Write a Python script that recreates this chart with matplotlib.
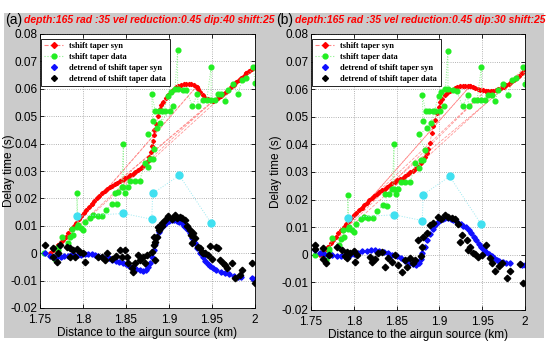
import matplotlib
matplotlib.use("Agg")
import matplotlib.pyplot as plt
from matplotlib.lines import Line2D
from matplotlib.patches import Rectangle
from matplotlib.ticker import FuncFormatter

# ---- data (km, s) ----
syn_a = [(1.762, 0.000), (1.765, 0.001), (1.768, 0.002), (1.771, 0.003), (1.774, 0.004),
         (1.777, 0.005), (1.780, 0.006), (1.783, 0.0075), (1.786, 0.0088), (1.789, 0.0100),
         (1.792, 0.0112), (1.795, 0.0124), (1.798, 0.0135), (1.801, 0.0147), (1.804, 0.0158),
         (1.807, 0.0169), (1.810, 0.0180), (1.813, 0.0190), (1.816, 0.0200), (1.819, 0.0209),
         (1.822, 0.0218), (1.825, 0.0226), (1.828, 0.0233), (1.831, 0.0240), (1.834, 0.0246),
         (1.837, 0.0252), (1.840, 0.0258), (1.843, 0.0263), (1.846, 0.0268), (1.849, 0.0273),
         (1.852, 0.0279), (1.855, 0.0284), (1.858, 0.0290), (1.861, 0.0296), (1.864, 0.0303),
         (1.867, 0.0310), (1.870, 0.0318), (1.873, 0.0328), (1.875, 0.0338), (1.877, 0.0352),
         (1.879, 0.0370), (1.880, 0.0390), (1.881, 0.0410), (1.882, 0.0430), (1.883, 0.0450),
         (1.885, 0.0470), (1.887, 0.0500), (1.889, 0.0525), (1.891, 0.0540), (1.893, 0.0552),
         (1.896, 0.0565), (1.899, 0.0578), (1.902, 0.0588), (1.905, 0.0597), (1.908, 0.0605),
         (1.911, 0.0611), (1.914, 0.0615), (1.917, 0.0617), (1.920, 0.0618), (1.923, 0.0618),
         (1.926, 0.0617), (1.929, 0.0615), (1.932, 0.0608), (1.934, 0.0598), (1.936, 0.0588),
         (1.939, 0.0578), (1.942, 0.0568), (1.945, 0.0562), (1.948, 0.0558), (1.951, 0.0556),
         (1.954, 0.0558), (1.957, 0.0565), (1.960, 0.0573), (1.963, 0.0580), (1.966, 0.0588),
         (1.969, 0.0596), (1.972, 0.0605), (1.975, 0.0615), (1.978, 0.0624), (1.981, 0.0632),
         (1.984, 0.0640), (1.987, 0.0648), (1.990, 0.0656), (1.993, 0.0664), (1.996, 0.0672),
         (1.999, 0.0680),
         # repeated samples further down the record
         (1.765, 0.001), (1.932, 0.0608), (1.771, 0.003), (1.951, 0.0556), (1.810, 0.0180),
         (1.990, 0.0656)]

syn_b = [(1.761, 0.000), (1.764, 0.001), (1.767, 0.002), (1.770, 0.003), (1.773, 0.0042),
         (1.776, 0.0054), (1.779, 0.0066), (1.782, 0.0078), (1.785, 0.0090), (1.788, 0.0101),
         (1.791, 0.0112), (1.794, 0.0123), (1.797, 0.0133), (1.800, 0.0143), (1.803, 0.0153),
         (1.806, 0.0162), (1.809, 0.0171), (1.812, 0.0180), (1.815, 0.0189), (1.818, 0.0198),
         (1.821, 0.0206), (1.824, 0.0213), (1.827, 0.0220), (1.830, 0.0226), (1.833, 0.0233),
         (1.836, 0.0240), (1.839, 0.0246), (1.842, 0.0252), (1.845, 0.0259), (1.848, 0.0265),
         (1.851, 0.0270), (1.854, 0.0275), (1.857, 0.0280), (1.860, 0.0286), (1.863, 0.0293),
         (1.866, 0.0299), (1.869, 0.0304), (1.872, 0.0310), (1.875, 0.0318), (1.878, 0.0332),
         (1.880, 0.0342), (1.883, 0.0354), (1.885, 0.0368), (1.887, 0.0382), (1.889, 0.0405),
         (1.891, 0.0440), (1.893, 0.0465), (1.895, 0.0490), (1.897, 0.0515), (1.899, 0.0535),
         (1.901, 0.0552), (1.903, 0.0566), (1.906, 0.0578), (1.909, 0.0588), (1.912, 0.0594),
         (1.915, 0.0598), (1.918, 0.0603), (1.921, 0.0607), (1.924, 0.0610), (1.927, 0.0612),
         (1.930, 0.0613), (1.933, 0.0613), (1.936, 0.0612), (1.939, 0.0609), (1.942, 0.0605),
         (1.945, 0.0601), (1.948, 0.0598), (1.951, 0.0596), (1.954, 0.0595), (1.957, 0.0594),
         (1.960, 0.0594), (1.963, 0.0595), (1.966, 0.0597), (1.969, 0.0600), (1.972, 0.0604),
         (1.975, 0.0609), (1.978, 0.0614), (1.981, 0.0620), (1.984, 0.0627), (1.987, 0.0634),
         (1.990, 0.0641), (1.993, 0.0649), (1.996, 0.0660), (1.999, 0.0675),
         (1.764, 0.001), (1.936, 0.0612), (1.770, 0.003), (1.954, 0.0595), (1.809, 0.0171),
         (1.990, 0.0641)]

taper_data = [(1.755, 0.000), (1.768, -0.002), (1.771, 0.0010), (1.771, 0.0022), (1.775, 0.0060),
              (1.783, 0.0036), (1.785, 0.0058), (1.788, 0.0065), (1.787, 0.0090), (1.793, 0.0095),
              (1.793, 0.0218), (1.794, 0.0102), (1.798, 0.0091), (1.800, 0.0084), (1.802, 0.0113),
              (1.808, 0.0130), (1.812, 0.0138), (1.817, 0.0134), (1.822, 0.0134), (1.827, 0.0157),
              (1.834, 0.0180), (1.839, 0.0178), (1.837, 0.0220), (1.841, 0.0222), (1.845, 0.0240),
              (1.847, 0.0400), (1.847, 0.0240), (1.849, 0.0220), (1.852, 0.0240), (1.855, 0.0265),
              (1.860, 0.0265), (1.866, 0.0265), (1.872, 0.0331), (1.876, 0.0313), (1.878, 0.0345),
              (1.881, 0.0345), (1.883, 0.0380), (1.876, 0.0436), (1.886, 0.0458), (1.881, 0.0484),
              (1.880, 0.0580), (1.884, 0.0520), (1.888, 0.0520), (1.892, 0.0520), (1.895, 0.0520),
              (1.901, 0.0520), (1.905, 0.0538), (1.890, 0.0476), (1.899, 0.0575), (1.902, 0.0590),
              (1.907, 0.0600), (1.910, 0.0740), (1.910, 0.0600), (1.916, 0.0597), (1.920, 0.0595),
              (1.927, 0.0538), (1.933, 0.0580), (1.934, 0.0538), (1.940, 0.0560), (1.944, 0.0560),
              (1.949, 0.0680), (1.949, 0.0560), (1.953, 0.0560), (1.957, 0.0580), (1.961, 0.0580),
              (1.965, 0.0556), (1.969, 0.0597), (1.974, 0.0618), (1.980, 0.0580), (1.985, 0.0633),
              (1.990, 0.0640), (1.998, 0.0680), (2.000, 0.0620)]

outliers = [(1.793, 0.0135), (1.847, 0.0145), (1.880, 0.0124), (1.881, 0.0218),
            (1.912, 0.0284), (1.949, 0.0110)]

detrend_syn_a = [(1.756, 0.0000), (1.762, -0.0012), (1.766, -0.0015), (1.770, -0.0015),
                 (1.774, -0.0015), (1.778, -0.0012), (1.782, -0.0010), (1.786, -0.0008),
                 (1.790, -0.0006), (1.794, -0.0006), (1.798, -0.0005), (1.802, -0.0004),
                 (1.806, -0.0002), (1.810, -0.0004), (1.814, -0.0007), (1.818, -0.0010),
                 (1.822, -0.0013), (1.826, -0.0016), (1.830, -0.0019), (1.834, -0.0023),
                 (1.838, -0.0027), (1.842, -0.0031), (1.846, -0.0036), (1.850, -0.0041),
                 (1.854, -0.0046), (1.858, -0.0052), (1.862, -0.0058), (1.866, -0.0063),
                 (1.870, -0.0064), (1.873, -0.0060), (1.876, -0.0050), (1.878, -0.0036),
                 (1.880, -0.0015), (1.882, 0.0010), (1.884, 0.0035), (1.886, 0.0058),
                 (1.888, 0.0076), (1.891, 0.0092), (1.894, 0.0104), (1.897, 0.0112),
                 (1.900, 0.0117), (1.903, 0.0120), (1.906, 0.0121), (1.909, 0.0119),
                 (1.912, 0.0115), (1.915, 0.0109), (1.918, 0.0101), (1.921, 0.0090),
                 (1.924, 0.0075), (1.927, 0.0057), (1.930, 0.0038), (1.933, 0.0018),
                 (1.936, 0.0000), (1.939, -0.0014), (1.942, -0.0027), (1.945, -0.0038),
                 (1.948, -0.0047), (1.951, -0.0055), (1.955, -0.0062), (1.960, -0.0067),
                 (1.965, -0.0072), (1.970, -0.0077), (1.975, -0.0082), (1.980, -0.0086),
                 (1.984, -0.0088), (1.996, -0.0090), (2.000, -0.0095)]

detrend_syn_b = [(1.755, 0.0018), (1.760, 0.0008), (1.765, 0.0002), (1.770, 0.0000),
                 (1.775, -0.0002), (1.780, -0.0003), (1.785, -0.0003), (1.790, -0.0002),
                 (1.795, 0.0000), (1.800, 0.0003), (1.805, 0.0008), (1.810, 0.0012),
                 (1.815, 0.0015), (1.820, 0.0016), (1.825, 0.0016), (1.830, 0.0014),
                 (1.835, 0.0011), (1.840, 0.0006), (1.845, 0.0001), (1.850, -0.0005),
                 (1.855, -0.0013), (1.860, -0.0021), (1.865, -0.0029), (1.869, -0.0034),
                 (1.873, -0.0036), (1.876, -0.0028), (1.878, -0.0014), (1.880, 0.0005),
                 (1.883, 0.0030), (1.886, 0.0054), (1.889, 0.0075), (1.892, 0.0093),
                 (1.895, 0.0108), (1.898, 0.0120), (1.901, 0.0127), (1.904, 0.0131),
                 (1.907, 0.0133), (1.910, 0.0133), (1.913, 0.0131), (1.916, 0.0127),
                 (1.919, 0.0122), (1.922, 0.0117), (1.925, 0.0112), (1.928, 0.0106),
                 (1.931, 0.0099), (1.934, 0.0090), (1.937, 0.0079), (1.940, 0.0066),
                 (1.943, 0.0052), (1.946, 0.0038), (1.949, 0.0027), (1.952, 0.0018),
                 (1.955, 0.0010), (1.958, 0.0003), (1.961, -0.0004), (1.964, -0.0011),
                 (1.967, -0.0018), (1.970, -0.0023), (1.974, -0.0027), (1.978, -0.0029),
                 (1.982, -0.0030), (1.997, -0.0036), (2.000, -0.0038)]

detrend_data_a = [(1.756, 0.0030), (1.765, 0.0018), (1.765, -0.0015), (1.770, -0.0033),
                  (1.771, 0.0000), (1.773, 0.0030), (1.781, 0.0022), (1.785, 0.0018),
                  (1.785, -0.0015), (1.788, 0.0011), (1.791, -0.0015), (1.793, 0.0015),
                  (1.797, 0.0004), (1.800, 0.0000), (1.802, -0.0033), (1.817, -0.0015),
                  (1.822, -0.0015), (1.826, -0.0025), (1.828, 0.0000), (1.834, -0.0020),
                  (1.838, -0.0010), (1.843, 0.0011), (1.845, -0.0015), (1.849, 0.0011),
                  (1.851, -0.0015), (1.852, -0.0036), (1.857, -0.0055), (1.858, -0.0069),
                  (1.860, -0.0036), (1.864, -0.0007), (1.866, -0.0025), (1.870, -0.0015),
                  (1.872, -0.0036), (1.874, -0.0007), (1.880, 0.0004), (1.884, -0.0025),
                  (1.882, 0.0030), (1.882, 0.0060), (1.884, 0.0040), (1.886, 0.0060),
                  (1.887, 0.0095), (1.888, 0.0084), (1.892, 0.0110), (1.892, 0.0100),
                  (1.895, 0.0120), (1.899, 0.0135), (1.903, 0.0125), (1.907, 0.0138),
                  (1.909, 0.0127), (1.913, 0.0132), (1.915, 0.0127), (1.919, 0.0120),
                  (1.921, 0.0100), (1.924, 0.0084), (1.926, 0.0065), (1.928, 0.0073),
                  (1.927, 0.0036), (1.930, 0.0055), (1.934, 0.0022), (1.936, 0.0018),
                  (1.938, 0.0004), (1.940, 0.0000), (1.942, 0.0000), (1.945, -0.0007),
                  (1.948, 0.0025), (1.950, -0.0020), (1.955, 0.0022), (1.957, 0.0018),
                  (1.959, -0.0025), (1.963, -0.0036), (1.965, -0.0044), (1.967, -0.0055),
                  (1.973, -0.0036), (1.977, -0.0090), (1.983, -0.0081), (1.985, -0.0062),
                  (1.996, -0.0036), (2.000, -0.0110)]

detrend_data_b = [(1.755, 0.0036), (1.755, 0.0020), (1.764, 0.0025), (1.764, -0.0015),
                  (1.768, -0.0030), (1.771, 0.0000), (1.780, 0.0030), (1.786, 0.0018),
                  (1.790, -0.0005), (1.792, 0.0010), (1.792, -0.0010), (1.796, 0.0007),
                  (1.800, 0.0015), (1.801, -0.0025), (1.804, 0.0000), (1.819, -0.0007),
                  (1.821, -0.0025), (1.825, -0.0015), (1.828, 0.0007), (1.833, 0.0010),
                  (1.836, -0.0043), (1.840, -0.0010), (1.845, -0.0025), (1.848, 0.0000),
                  (1.852, -0.0036), (1.856, -0.0062), (1.860, -0.0018), (1.862, -0.0043),
                  (1.866, -0.0010), (1.869, -0.0030), (1.872, -0.0020), (1.875, 0.0054),
                  (1.878, -0.0005), (1.880, 0.0030), (1.881, 0.0065), (1.885, 0.0080),
                  (1.889, 0.0108), (1.893, 0.0115), (1.898, 0.0137), (1.902, 0.0130),
                  (1.906, 0.0144), (1.910, 0.0138), (1.915, 0.0134), (1.918, 0.0128),
                  (1.922, 0.0110), (1.924, 0.0047), (1.926, 0.0072), (1.932, 0.0054),
                  (1.933, 0.0018), (1.936, 0.0030), (1.939, 0.0007), (1.942, 0.0003),
                  (1.945, -0.0007), (1.950, 0.0000), (1.955, 0.0036), (1.959, -0.0010),
                  (1.962, -0.0030), (1.965, -0.0060), (1.970, -0.0040), (1.973, -0.0030),
                  (1.979, -0.0083), (1.982, -0.0058), (1.994, -0.0033), (1.998, -0.0101)]

panel_tags = ["(a)", "(b)"]
panel_titles = ["depth:165 rad :35 vel reduction:0.45 dip:40 shift:25",
                "depth:165 rad :35 vel reduction:0.45 dip:30 shift:25"]
legend_labels = ["tshift taper syn", "tshift taper data",
                 "detrend of tshift taper syn", "detrend of tshift taper data"]
xticks = [1.75, 1.8, 1.85, 1.9, 1.95, 2.0]
yticks = [-0.02, -0.01, 0, 0.01, 0.02, 0.03, 0.04, 0.05, 0.06, 0.07, 0.08]

RED, GREEN, CYAN, BLUE = "#ff0000", "#22ee22", "#40e0f0", "#1010ff"
W, H = 550, 346


def xy(pts):
    return [p[0] for p in pts], [p[1] for p in pts]


def fmt(v, _):
    return "%g" % round(v, 4)


plt.rcParams["font.family"] = ["Liberation Sans", "DejaVu Sans"]

fig = plt.figure(figsize=(W / 100, H / 100), dpi=100, facecolor="white")
fig.patches.append(Rectangle((4 / W, 8 / H), 540 / W, 325 / H, transform=fig.transFigure,
                             facecolor="#cbcbcb", edgecolor="none", zorder=-10))

# axes boxes in pixels: left, top, right, bottom
boxes = [(40, 34, 255, 308), (311, 34, 525, 310)]
panels = [(syn_a, detrend_syn_a, detrend_data_a), (syn_b, detrend_syn_b, detrend_data_b)]

for i, ((l, t, r, b), (syn, dsyn, ddata)) in enumerate(zip(boxes, panels)):
    ax = fig.add_axes([l / W, 1 - b / H, (r - l) / W, (b - t) / H])
    ax.set_facecolor("white")

    sx, sy = xy(syn)
    ax.plot(sx, sy, ls="--", lw=0.6, color="#ff8080", alpha=0.8)
    ax.plot(sx, sy, ls="none", marker="D", ms=2.1, color=RED, mec=RED)
    gx, gy = xy(taper_data)
    ax.plot(gx, gy, ls=":", lw=0.7, color="#8cf08c")
    ax.plot(gx, gy, ls="none", marker="o", ms=3.4, color=GREEN, mec=GREEN)
    cx, cy = xy(outliers)
    ax.plot(cx, cy, ls=":", lw=0.7, color="#9ae8f0")
    ax.plot(cx, cy, ls="none", marker="o", ms=5.0, color=CYAN, mec=CYAN)
    bx, by = xy(dsyn)
    ax.plot(bx, by, ls="none", marker="D", ms=2.7, color=BLUE, mec=BLUE)
    kx, ky = xy(ddata)
    ax.plot(kx, ky, ls="none", marker="D", ms=3.3, color="black", mec="black")

    ax.set_xlim(1.75, 2.0)
    ax.set_ylim(-0.02, 0.08)
    ax.set_xticks(xticks)
    ax.set_yticks(yticks)
    ax.xaxis.set_major_formatter(FuncFormatter(fmt))
    ax.yaxis.set_major_formatter(FuncFormatter(fmt))
    ax.tick_params(direction="in", length=3, width=0.6, labelsize=8.5, pad=2,
                   top=True, right=True, colors="black")
    ax.tick_params(axis="x", pad=4)
    ax.grid(True, ls=":", lw=0.6, color="#9a9a9a")
    for s in ax.spines.values():
        s.set_linewidth(0.6)

    ax.set_xlabel("Distance to the airgun source (km)", fontsize=8.5, labelpad=1)
    ax.set_ylabel("Delay time (s)", fontsize=8.5)
    ax.yaxis.set_label_coords(-0.118 if i == 0 else -0.135, 0.5)

    handles = [
        Line2D([], [], ls="--", lw=0.8, color="#ff8080", marker="D", ms=3,
               mfc=RED, mec=RED),
        Line2D([], [], ls=":", lw=0.8, color="#8cf08c", marker="o", ms=3.5,
               mfc=GREEN, mec=GREEN),
        Line2D([], [], ls="none", marker="D", ms=3, color=BLUE),
        Line2D([], [], ls="none", marker="D", ms=3, color="black"),
    ]
    leg = ax.legend(handles, legend_labels, loc="upper left",
                    bbox_to_anchor=(0.005, 0.982), borderaxespad=0,
                    prop={"family": "Liberation Serif", "weight": "bold", "size": 6},
                    frameon=True, fancybox=False, framealpha=1, edgecolor="black",
                    handlelength=2.2, handletextpad=0.8, labelspacing=0.35,
                    borderpad=0.4)
    leg.get_frame().set_linewidth(0.6)

    fig.text((l - 35) / W, 1 - 20 / H, panel_tags[i], fontsize=10, va="center",
             ha="left", color="black")
    fig.text((l - 16) / W, 1 - 20 / H, panel_titles[i], fontsize=7.5, va="center",
             ha="left", color=RED, style="italic", weight="bold")

fig.savefig("out.png", dpi=100, facecolor=fig.get_facecolor())
